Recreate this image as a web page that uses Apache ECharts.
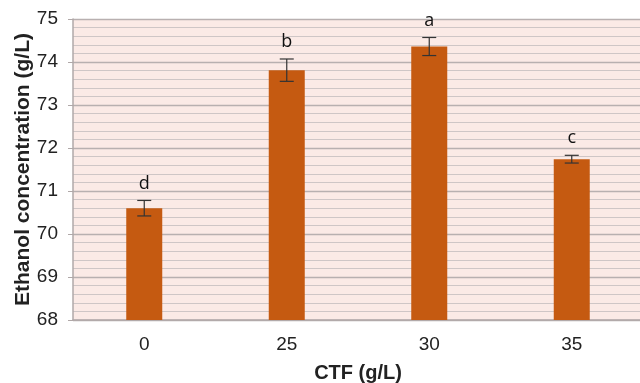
<!DOCTYPE html>
<html><head><meta charset="utf-8">
<script src="https://cdn.jsdelivr.net/npm/echarts@6/dist/echarts.min.js"></script>
<style>html,body{margin:0;padding:0;background:#fff}#c{width:640px;height:383px}</style>
</head><body><div id="c"></div>
<script>
const categories = ['0', '25', '30', '35'];
const values = [70.60, 73.81, 74.36, 71.74];
const errors = [0.18, 0.26, 0.21, 0.09];
const letters = ['d', 'b', 'a', 'c'];
const yTicks = [68, 69, 70, 71, 72, 73, 74, 75];

const chart = echarts.init(document.getElementById('c'), null, {renderer: 'canvas'});
const errData = values.map((v, i) => [i, v - errors[i], v + errors[i], letters[i]]);
chart.setOption({
  animation: false,
  grid: {left: 73, top: 19, width: 570, height: 301, backgroundColor: '#fbeae6', show: true, borderWidth: 0, borderColor: 'transparent', containLabel: false, outerBoundsMode: 'none'},
  xAxis: {
    type: 'category', data: categories,
    axisLine: {show: true, lineStyle: {color: '#b0a8a8', width: 1.5}},
    axisTick: {show: false},
    splitLine: {show: false},
    axisLabel: {color: '#222', fontSize: 19, fontFamily: 'Liberation Sans', margin: 15},
    name: 'CTF (g/L)', nameLocation: 'middle', nameGap: 43,
    nameTextStyle: {fontWeight: 'bold', fontSize: 20, color: '#222', fontFamily: 'Liberation Sans'}
  },
  yAxis: {
    type: 'value', min: yTicks[0], max: yTicks[yTicks.length - 1], interval: 1,
    axisLine: {show: true, lineStyle: {color: '#b0a8a8', width: 1.5}},
    axisTick: {show: true, length: 5, lineStyle: {color: '#b0a8a8'}},
    axisLabel: {color: '#222', fontSize: 19, fontFamily: 'Liberation Sans', margin: 15},
    splitLine: {show: true, lineStyle: {color: '#b8b0b0', width: 1.3}},
    minorTick: {show: false, splitNumber: 5},
    minorSplitLine: {show: true, lineStyle: {color: '#cfc6c6', width: 1.2}},
    name: 'Ethanol concentration (g/L)', nameLocation: 'middle', nameGap: 39, nameMoveOverlap: false,
    nameTextStyle: {fontWeight: 'bold', fontSize: 21, color: '#222', fontFamily: 'Liberation Sans'}
  },
  series: [{
    type: 'bar', data: values, barWidth: 36,
    itemStyle: {color: '#c55a11'}
  }, {
    type: 'custom', data: errData,
    renderItem: function (params, api) {
      const x = api.value(0);
      const lo = api.coord([x, api.value(1)]);
      const hi = api.coord([x, api.value(2)]);
      const hw = 7;
      const st = {stroke: '#333', lineWidth: 1.2};
      return {type: 'group', children: [
        {type: 'line', shape: {x1: lo[0], y1: lo[1], x2: hi[0], y2: hi[1]}, style: st},
        {type: 'line', shape: {x1: lo[0] - hw, y1: lo[1], x2: lo[0] + hw, y2: lo[1]}, style: st},
        {type: 'line', shape: {x1: hi[0] - hw, y1: hi[1], x2: hi[0] + hw, y2: hi[1]}, style: st},
        {type: 'text', style: {text: api.value(3), x: hi[0], y: hi[1] - 8, textAlign: 'center', textVerticalAlign: 'bottom', fontSize: 18, fontFamily: 'Open Sans', fill: '#111'}}
      ]};
    },
    z: 5
  }]
});
</script></body></html>
